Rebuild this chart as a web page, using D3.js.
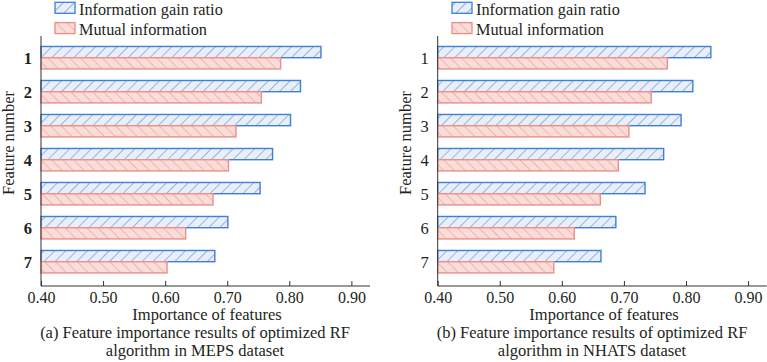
<!DOCTYPE html>
<html>
<head>
<meta charset="utf-8">
<script src="https://cdn.jsdelivr.net/npm/d3@7"></script>
<style>
  body { margin: 0; background: #fff; }
</style>
</head>
<body>
<svg id="chart" width="767" height="362"></svg>
<script>
// feature ids and importance values
var features = ["1", "2", "3", "4", "5", "6", "7"];
var xTicks = [0.40, 0.50, 0.60, 0.70, 0.80, 0.90];
var seriesNames = ["Information gain ratio", "Mutual information"];

var mepsGainRatio = [0.851, 0.818, 0.802, 0.773, 0.753, 0.701, 0.680];
var mepsMutualInfo = [0.786, 0.755, 0.714, 0.702, 0.677, 0.633, 0.603];
var nhatsGainRatio = [0.840, 0.811, 0.792, 0.764, 0.734, 0.687, 0.663];
var nhatsMutualInfo = [0.770, 0.744, 0.708, 0.691, 0.662, 0.620, 0.587];

var FONT = "'Liberation Serif', 'Times New Roman', Times, serif";

var svg = d3.select("#chart");
var defs = svg.append("defs");

// hatch fills
function hatch(id, bg, line, forward) {
  var p = defs.append("pattern")
    .attr("id", id)
    .attr("patternUnits", "userSpaceOnUse")
    .attr("width", 7.7)
    .attr("height", 7.7)
    .attr("patternTransform", "rotate(" + (forward ? 45 : -45) + ")");
  p.append("rect").attr("width", 7.7).attr("height", 7.7).attr("fill", bg);
  p.append("line")
    .attr("x1", 0).attr("y1", 0).attr("x2", 0).attr("y2", 7.7)
    .attr("stroke", line).attr("stroke-width", 1.1);
}
hatch("hBlue", "#e9eef8", "#4f88d6", true);
hatch("hPink", "#fadcd8", "#e9958f", false);

var styles = [
  { fill: "url(#hBlue)", stroke: "#3d7fd9" },
  { fill: "url(#hPink)", stroke: "#ea8f89" }
];

function txt(sel, size) {
  return sel.attr("font-family", FONT).attr("font-size", size).attr("fill", "#231f20");
}

function panel(opt) {
  var g = svg.append("g");

  var x = d3.scaleLinear().domain([0.40, 0.93]).range([opt.x0, opt.x0 + 329]);
  var y = d3.scaleBand().domain(features).range([40.7, 278.7]).paddingInner(0.34).paddingOuter(0.17);
  var ySub = d3.scaleBand().domain([0, 1]).range([0, y.bandwidth()]);

  features.forEach(function (f, i) {
    [opt.a[i], opt.b[i]].forEach(function (v, k) {
      g.append("rect")
        .attr("x", x(0.40))
        .attr("y", y(f) + ySub(k))
        .attr("width", x(v) - x(0.40))
        .attr("height", ySub.bandwidth())
        .attr("fill", styles[k].fill)
        .attr("stroke", styles[k].stroke)
        .attr("stroke-width", 1.4);
    });
  });

  // x axis with inward ticks
  var xAxis = g.append("g")
    .attr("transform", "translate(0,286)")
    .call(d3.axisBottom(x).tickValues(xTicks).tickSize(-5).tickFormat(d3.format(".2f")));
  xAxis.attr("font-family", null).attr("font-size", null);
  xAxis.select(".domain").attr("d", "M" + opt.x0 + ",0H" + (opt.x0 + 329)).attr("stroke", "#333");
  xAxis.selectAll(".tick line").attr("stroke", "#333");
  txt(xAxis.selectAll(".tick text"), 16)
    .attr("y", 17).attr("dy", 0);

  // y axis line
  g.append("line")
    .attr("x1", opt.x0).attr("x2", opt.x0)
    .attr("y1", 36).attr("y2", 286)
    .attr("stroke", "#333");

  txt(g.selectAll(".ylab")
    .data(features)
    .join("text"), 16.5)
    .attr("x", opt.x0 - 9)
    .attr("y", function (d) { return y(d) + y.bandwidth() / 2; })
    .attr("dy", "0.36em")
    .attr("text-anchor", "end")
    .attr("font-weight", opt.boldY ? "bold" : "normal")
    .text(function (d) { return d; });

  txt(g.append("text"), 16.5)
    .attr("transform", "translate(" + opt.yTitleX + ",143) rotate(-90)")
    .attr("text-anchor", "middle")
    .text("Feature number");

  txt(g.append("text"), 16.5)
    .attr("x", opt.cx).attr("y", 320)
    .attr("text-anchor", "middle")
    .text("Importance of features");

  opt.caption.forEach(function (line, i) {
    txt(g.append("text"), 16.5)
      .attr("x", opt.capX).attr("y", 337.5 + i * 18.5)
      .attr("text-anchor", "middle")
      .text(line);
  });

  // legend
  seriesNames.forEach(function (name, k) {
    g.append("rect")
      .attr("x", opt.legX).attr("y", 2.3 + k * 20.3)
      .attr("width", 20).attr("height", 11)
      .attr("fill", styles[k].fill)
      .attr("stroke", styles[k].stroke)
      .attr("stroke-width", 1.3);
    txt(g.append("text"), 16.3)
      .attr("x", opt.legX + 24).attr("y", 14.6 + k * 20.3)
      .text(name);
  });
}

panel({
  x0: 41, a: mepsGainRatio, b: mepsMutualInfo, boldY: true,
  yTitleX: 14, cx: 207, capX: 195, legX: 55,
  caption: ["(a) Feature importance results of optimized RF", "algorithm in MEPS dataset"]
});
panel({
  x0: 437.7, a: nhatsGainRatio, b: nhatsMutualInfo, boldY: false,
  yTitleX: 410.5, cx: 604, capX: 592, legX: 452,
  caption: ["(b) Feature importance results of optimized RF", "algorithm in NHATS dataset"]
});
</script>
</body>
</html>
